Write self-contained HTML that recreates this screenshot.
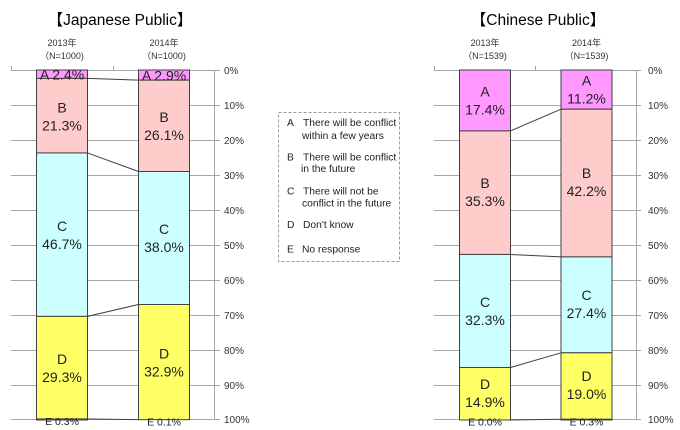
<!DOCTYPE html>
<html><head><meta charset="utf-8"><style>
html,body{margin:0;padding:0;background:#fff;}
svg{display:block;font-family:"Liberation Sans","Noto Sans CJK JP",sans-serif;}
</style></head><body>
<svg width="680" height="430" viewBox="0 0 680 430" xmlns="http://www.w3.org/2000/svg">
<defs>
<clipPath id="plotL"><rect x="0" y="70" width="230" height="360"/></clipPath>
<clipPath id="plotR"><rect x="420" y="70" width="240" height="360"/></clipPath>
<clipPath id="botL"><rect x="0" y="416.5" width="680" height="14"/></clipPath>
</defs>

<!-- Titles -->
<text x="120" y="25" font-size="15.5" text-anchor="middle" fill="#000">【Japanese Public】</text>
<text x="538" y="25" font-size="15.5" text-anchor="middle" fill="#000">【Chinese Public】</text>

<!-- Year labels -->
<g font-size="9" fill="#333" text-anchor="middle">
<text x="62" y="46">2013年</text><text x="62" y="59">（N=1000)</text>
<text x="164" y="46">2014年</text><text x="164" y="59">（N=1000)</text>
<text x="485" y="46">2013年</text><text x="485" y="59">（N=1539)</text>
<text x="586.5" y="46">2014年</text><text x="586.5" y="59">（N=1539)</text>
</g>

<!-- Gridlines -->
<g stroke="#a6a6a6" stroke-width="1" shape-rendering="crispEdges">
<line x1="11" y1="70.5" x2="220" y2="70.5"/><line x1="11" y1="105.5" x2="220" y2="105.5"/>
<line x1="11" y1="140.5" x2="220" y2="140.5"/><line x1="11" y1="175.5" x2="220" y2="175.5"/>
<line x1="11" y1="210.5" x2="220" y2="210.5"/><line x1="11" y1="245.5" x2="220" y2="245.5"/>
<line x1="11" y1="280.5" x2="220" y2="280.5"/><line x1="11" y1="315.5" x2="220" y2="315.5"/>
<line x1="11" y1="350.5" x2="220" y2="350.5"/><line x1="11" y1="385.5" x2="220" y2="385.5"/>
<line x1="11" y1="419.5" x2="220" y2="419.5"/>
<line x1="214.5" y1="70" x2="214.5" y2="420"/>
<line x1="11.5" y1="66" x2="11.5" y2="70"/><line x1="113.5" y1="66" x2="113.5" y2="70"/>

<line x1="434" y1="70.5" x2="641" y2="70.5"/><line x1="434" y1="105.5" x2="641" y2="105.5"/>
<line x1="434" y1="140.5" x2="641" y2="140.5"/><line x1="434" y1="175.5" x2="641" y2="175.5"/>
<line x1="434" y1="210.5" x2="641" y2="210.5"/><line x1="434" y1="245.5" x2="641" y2="245.5"/>
<line x1="434" y1="280.5" x2="641" y2="280.5"/><line x1="434" y1="315.5" x2="641" y2="315.5"/>
<line x1="434" y1="350.5" x2="641" y2="350.5"/><line x1="434" y1="385.5" x2="641" y2="385.5"/>
<line x1="434" y1="419.5" x2="641" y2="419.5"/>
<line x1="636.5" y1="70" x2="636.5" y2="420"/>
<line x1="434.5" y1="66" x2="434.5" y2="70"/><line x1="535.5" y1="66" x2="535.5" y2="70"/>
</g>

<!-- Axis labels -->
<g font-size="10" fill="#333">
<text x="224" y="74">0%</text><text x="224" y="109">10%</text><text x="224" y="144">20%</text>
<text x="224" y="179">30%</text><text x="224" y="214">40%</text><text x="224" y="249">50%</text>
<text x="224" y="284">60%</text><text x="224" y="319">70%</text><text x="224" y="354">80%</text>
<text x="224" y="389">90%</text><text x="224" y="423">100%</text>
<text x="648" y="74">0%</text><text x="648" y="109">10%</text><text x="648" y="144">20%</text>
<text x="648" y="179">30%</text><text x="648" y="214">40%</text><text x="648" y="249">50%</text>
<text x="648" y="284">60%</text><text x="648" y="319">70%</text><text x="648" y="354">80%</text>
<text x="648" y="389">90%</text><text x="648" y="423">100%</text>
</g>

<!-- Bars -->
<g stroke="#404040" stroke-width="1">
<!-- Left 2013 -->
<rect x="36.5" y="70" width="51" height="8.4" fill="#ff99ff"/>
<rect x="36.5" y="78.4" width="51" height="74.55" fill="#ffcccc"/>
<rect x="36.5" y="152.95" width="51" height="163.45" fill="#ccffff"/>
<rect x="36.5" y="316.4" width="51" height="102.55" fill="#ffff66"/>
<rect x="36.5" y="418.95" width="51" height="1.05" fill="#ffc000"/>
<!-- Left 2014 -->
<rect x="138.5" y="70" width="51" height="10.15" fill="#ff99ff"/>
<rect x="138.5" y="80.15" width="51" height="91.35" fill="#ffcccc"/>
<rect x="138.5" y="171.5" width="51" height="133" fill="#ccffff"/>
<rect x="138.5" y="304.5" width="51" height="115.15" fill="#ffff66"/>
<!-- Right 2013 -->
<rect x="459.5" y="70" width="51" height="60.9" fill="#ff99ff"/>
<rect x="459.5" y="130.9" width="51" height="123.55" fill="#ffcccc"/>
<rect x="459.5" y="254.45" width="51" height="113.05" fill="#ccffff"/>
<rect x="459.5" y="367.5" width="51" height="52.5" fill="#ffff66"/>
<!-- Right 2014 -->
<rect x="561" y="70" width="51" height="39.2" fill="#ff99ff"/>
<rect x="561" y="109.2" width="51" height="147.7" fill="#ffcccc"/>
<rect x="561" y="256.9" width="51" height="95.9" fill="#ccffff"/>
<rect x="561" y="352.8" width="51" height="66.5" fill="#ffff66"/>
<rect x="561" y="419.3" width="51" height="0.7" fill="#ffc000"/>
</g>

<!-- Connector lines -->
<g stroke="#404040" stroke-width="1">
<line x1="87.5" y1="78.4" x2="138.5" y2="80.15"/>
<line x1="87.5" y1="152.95" x2="138.5" y2="171.5"/>
<line x1="87.5" y1="316.4" x2="138.5" y2="304.5"/>
<line x1="87.5" y1="418.95" x2="138.5" y2="419.65"/>
<line x1="510.5" y1="130.9" x2="561" y2="109.2"/>
<line x1="510.5" y1="254.45" x2="561" y2="256.9"/>
<line x1="510.5" y1="367.5" x2="561" y2="352.8"/>
<line x1="510.5" y1="420" x2="561" y2="419.3"/>
</g>

<!-- Bar labels -->
<g font-size="14" fill="#222" text-anchor="middle">
<g clip-path="url(#plotL)">
<text x="62" y="79.5">A 2.4%</text>
<text x="164" y="80.5">A 2.9%</text>
</g>
<text x="62" y="112.5">B</text><text x="62" y="130.5">21.3%</text>
<text x="62" y="231">C</text><text x="62" y="249">46.7%</text>
<text x="62" y="364">D</text><text x="62" y="382">29.3%</text>

<text x="164" y="122">B</text><text x="164" y="140">26.1%</text>
<text x="164" y="234">C</text><text x="164" y="252">38.0%</text>
<text x="164" y="358.5">D</text><text x="164" y="376.5">32.9%</text>

<text x="485" y="96.5">A</text><text x="485" y="114.5">17.4%</text>
<text x="485" y="188">B</text><text x="485" y="206">35.3%</text>
<text x="485" y="307">C</text><text x="485" y="325">32.3%</text>
<text x="485" y="389">D</text><text x="485" y="407">14.9%</text>

<text x="586.5" y="85.5">A</text><text x="586.5" y="103.5">11.2%</text>
<text x="586.5" y="178">B</text><text x="586.5" y="196">42.2%</text>
<text x="586.5" y="300">C</text><text x="586.5" y="318">27.4%</text>
<text x="586.5" y="381">D</text><text x="586.5" y="399">19.0%</text>
</g>

<!-- E labels (partially hidden) -->
<g font-size="10.5" fill="#222" text-anchor="middle" clip-path="url(#botL)">
<text x="62" y="425">E 0.3%</text>
<text x="164" y="425.5">E 0.1%</text>
<text x="485" y="425.5">E 0.0%</text>
<text x="586.5" y="425.5">E 0.3%</text>
</g>

<!-- Legend -->
<rect x="278.5" y="112.5" width="121" height="149" fill="#fff" stroke="#999" stroke-width="1" stroke-dasharray="3,2"/>
<g font-size="10.3" fill="#222">
<text x="287" y="126">A</text><text x="303" y="126">There will be conflict</text>
<text x="302" y="139">within a few years</text>
<text x="287" y="160.5">B</text><text x="303" y="160.5">There will be conflict</text>
<text x="301" y="172">in the future</text>
<text x="287" y="194.5">C</text><text x="303" y="194.5">There will not be</text>
<text x="302" y="206.5">conflict in the future</text>
<text x="287" y="228">D</text><text x="303" y="228">Don't know</text>
<text x="287" y="252.5">E</text><text x="302" y="252.5">No response</text>
</g>
</svg>
</body></html>
